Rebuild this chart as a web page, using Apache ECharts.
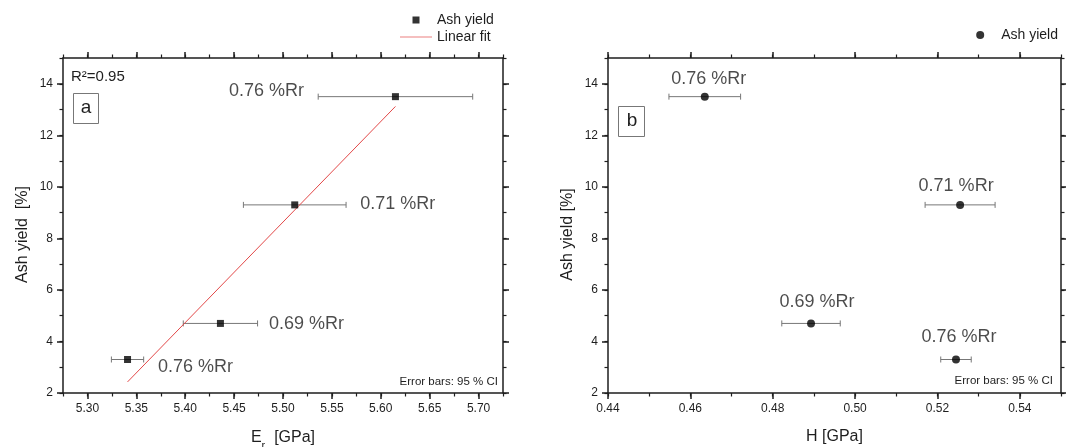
<!DOCTYPE html>
<html>
<head>
<meta charset="utf-8">
<script src="https://cdn.jsdelivr.net/npm/echarts@6/dist/echarts.min.js"></script>
<style>
  html, body { margin: 0; padding: 0; background: #fff; }
  #chart { width: 1066px; height: 447px; }
</style>
</head>
<body>
<div id="chart"></div>
<script>
// Ash yield against reduced modulus (Er) and hardness (H), with 95 % CI bars
const ashYield = [13.5, 9.3, 4.7, 3.3];
const rankLabels = ['0.76 %Rr', '0.71 %Rr', '0.69 %Rr', '0.76 %Rr'];
const erValues = [5.615, 5.512, 5.436, 5.341];
const erCI = [0.079, 0.0525, 0.038, 0.0165];
const hValues = [0.4635, 0.5255, 0.4893, 0.5245];
const hCI = [0.0087, 0.0085, 0.0071, 0.0037];
const fitEr = [5.341, 5.615];
const fitAsh = [2.43, 13.12];
const erTicks = [5.30, 5.35, 5.40, 5.45, 5.50, 5.55, 5.60, 5.65, 5.70];
const hTicks = [0.44, 0.46, 0.48, 0.50, 0.52, 0.54];
const ashTicks = [2, 4, 6, 8, 10, 12, 14];
const rSquaredText = 'R²=0.95';
const ciNote = 'Error bars: 95 % CI';

const FONT = "'Liberation Sans', Arial, sans-serif";
const INK = '#1e1e1e';
const FIT_RED = '#e34848';

// label placement relative to each point (px)
const labelOffsetsEr = [[-129, -6], [103, -1], [86, 1], [68, 8]];
const labelOffsetsH = [[4, -18], [-4, -19], [6, -21], [3, -22]];

// legend glyphs: a small filled square and a thin line
const SQUARE_ICON = 'path://M0,0H10V10H0Z';
const LINE_ICON = 'path://M0,0H64V1.4H0Z';

function majorAxis(grid, pos, min, max, ticks, showLabels, digits, extra) {
  return Object.assign({
    type: 'value', gridIndex: grid, position: pos, min: min, max: max,
    axisLine: { show: true, onZero: false, lineStyle: { color: INK, width: 1.5 } },
    axisTick: { show: true, inside: false, length: 6, customValues: ticks,
      lineStyle: { color: INK, width: 1.5 } },
    axisLabel: { show: showLabels, customValues: ticks, margin: 10, fontSize: 12,
      color: INK, fontFamily: FONT,
      formatter: function (v) { return digits ? v.toFixed(digits) : String(v); } },
    splitLine: { show: false }
  }, extra || {});
}

function minorAxis(grid, pos, min, max, step) {
  return {
    type: 'value', gridIndex: grid, position: pos, min: min, max: max, interval: step,
    axisLine: { show: false, onZero: false },
    axisTick: { show: true, inside: false, length: 3.5, lineStyle: { color: INK, width: 1.2 } },
    axisLabel: { show: false },
    splitLine: { show: false }
  };
}

function errorBarSeries(xIdx, yIdx, xs, cis) {
  return {
    type: 'custom', name: 'CI', xAxisIndex: xIdx, yAxisIndex: yIdx, z: 2, silent: true,
    data: xs.map(function (x, i) { return [x, ashYield[i], x - cis[i], x + cis[i]]; }),
    encode: { x: [2, 3], y: 1 },
    renderItem: function (params, api) {
      const y = api.value(1);
      const a = api.coord([api.value(2), y]);
      const b = api.coord([api.value(3), y]);
      const cap = 3;
      const st = { stroke: '#777', lineWidth: 1 };
      return {
        type: 'group',
        children: [
          { type: 'line', shape: { x1: a[0], y1: a[1], x2: b[0], y2: b[1] }, style: st },
          { type: 'line', shape: { x1: a[0], y1: a[1] - cap, x2: a[0], y2: a[1] + cap }, style: st },
          { type: 'line', shape: { x1: b[0], y1: b[1] - cap, x2: b[0], y2: b[1] + cap }, style: st }
        ]
      };
    }
  };
}

function pointSeries(xIdx, yIdx, xs, symbol, size, offsets) {
  return {
    type: 'scatter', name: 'Ash yield', xAxisIndex: xIdx, yAxisIndex: yIdx, z: 4,
    symbol: symbol, symbolSize: size,
    itemStyle: { color: '#000' },
    label: {
      show: true, position: 'inside', fontSize: 18, color: INK, fontFamily: FONT,
      formatter: function (p) { return rankLabels[p.dataIndex]; }
    },
    data: xs.map(function (x, i) {
      return { value: [x, ashYield[i]], label: { offset: offsets[i] } };
    })
  };
}

const erName = {
  name: '{e|E}{s|r}{e|  [GPa]}', nameLocation: 'middle', nameGap: 32,
  nameTextStyle: { rich: {
    e: { fontSize: 16, color: INK, fontFamily: FONT, lineHeight: 26, verticalAlign: 'middle' },
    s: { fontSize: 11, color: INK, fontFamily: FONT, verticalAlign: 'bottom' }
  } }
};
const hName = {
  name: 'H [GPa]', nameLocation: 'middle', nameGap: 36,
  nameTextStyle: { fontSize: 16, color: INK, fontFamily: FONT }
};
function ashName(text) {
  return {
    name: text, nameLocation: 'middle', nameGap: 32,
    nameTextStyle: { fontSize: 16, color: INK, fontFamily: FONT, padding: [0, 18, 0, 0] }
  };
}

const chart = echarts.init(document.getElementById('chart'), null, { renderer: 'canvas' });

chart.setOption({
  animation: false,
  backgroundColor: '#fff',
  textStyle: { fontFamily: FONT },
  grid: [
    { left: 63, top: 58, width: 440, height: 335, outerBoundsMode: 'none', containLabel: false },
    { left: 608, top: 58, width: 453, height: 335, outerBoundsMode: 'none', containLabel: false }
  ],
  xAxis: [
    majorAxis(0, 'bottom', 5.275, 5.725, erTicks, true, 2, erName),
    minorAxis(0, 'bottom', 5.275, 5.725, 0.025),
    majorAxis(0, 'top', 5.275, 5.725, erTicks, false, 2),
    minorAxis(0, 'top', 5.275, 5.725, 0.025),
    majorAxis(1, 'bottom', 0.44, 0.55, hTicks, true, 2, hName),
    minorAxis(1, 'bottom', 0.44, 0.55, 0.01),
    majorAxis(1, 'top', 0.44, 0.55, hTicks, false, 2),
    minorAxis(1, 'top', 0.44, 0.55, 0.01)
  ],
  yAxis: [
    majorAxis(0, 'left', 2, 15, ashTicks, true, 0, ashName('Ash yield  [%]')),
    minorAxis(0, 'left', 2, 15, 1),
    majorAxis(0, 'right', 2, 15, ashTicks, false, 0),
    minorAxis(0, 'right', 2, 15, 1),
    majorAxis(1, 'left', 2, 15, ashTicks, true, 0, ashName('Ash yield [%]')),
    minorAxis(1, 'left', 2, 15, 1),
    majorAxis(1, 'right', 2, 15, ashTicks, false, 0),
    minorAxis(1, 'right', 2, 15, 1)
  ],
  legend: [
    {
      left: 400, top: 13, padding: 0, orient: 'vertical', itemWidth: 32, itemHeight: 7, itemGap: 3,
      selectedMode: false, symbolKeepAspect: true,
      textStyle: { fontSize: 14, color: INK, fontFamily: FONT },
      data: [
        { name: 'Ash yield', icon: SQUARE_ICON, itemStyle: { color: '#000' } },
        { name: 'Linear fit', icon: LINE_ICON, itemStyle: { color: FIT_RED } }
      ]
    },
    {
      right: 8, top: 28, padding: 0, orient: 'vertical', itemWidth: 32, itemHeight: 8,
      selectedMode: false,
      textStyle: { fontSize: 14, color: INK, fontFamily: FONT },
      data: [{ name: 'Ash yield', icon: 'circle', itemStyle: { color: '#000' } }]
    }
  ],
  series: [
    errorBarSeries(0, 0, erValues, erCI),
    {
      type: 'line', name: 'Linear fit', xAxisIndex: 0, yAxisIndex: 0, z: 3,
      symbol: 'none', silent: true,
      lineStyle: { color: FIT_RED, width: 1 },
      itemStyle: { color: FIT_RED },
      data: fitEr.map(function (x, i) { return [x, fitAsh[i]]; })
    },
    pointSeries(0, 0, erValues, 'rect', 7, labelOffsetsEr),
    errorBarSeries(4, 4, hValues, hCI),
    pointSeries(4, 4, hValues, 'circle', 8, labelOffsetsH)
  ],
  graphic: [
    { type: 'text', left: 71, top: 69, style: { text: rSquaredText, fontSize: 15, fill: INK, fontFamily: FONT } },
    { type: 'rect', shape: { x: 73.5, y: 93.5, width: 25, height: 30 }, style: { fill: '#fff', stroke: '#777', lineWidth: 1 } },
    { type: 'text', style: { text: 'a', x: 86, y: 108, align: 'center', verticalAlign: 'middle', fontSize: 19, fill: INK, fontFamily: FONT } },
    { type: 'rect', shape: { x: 618.5, y: 106.5, width: 26, height: 30 }, style: { fill: '#fff', stroke: '#777', lineWidth: 1 } },
    { type: 'text', style: { text: 'b', x: 632, y: 121, align: 'center', verticalAlign: 'middle', fontSize: 19, fill: INK, fontFamily: FONT } },
    { type: 'text', style: { text: ciNote, x: 498, y: 382, align: 'right', verticalAlign: 'middle', fontSize: 11.5, fill: INK, fontFamily: FONT } },
    { type: 'text', style: { text: ciNote, x: 1053, y: 381, align: 'right', verticalAlign: 'middle', fontSize: 11.5, fill: INK, fontFamily: FONT } }
  ]
});
</script>
</body>
</html>
